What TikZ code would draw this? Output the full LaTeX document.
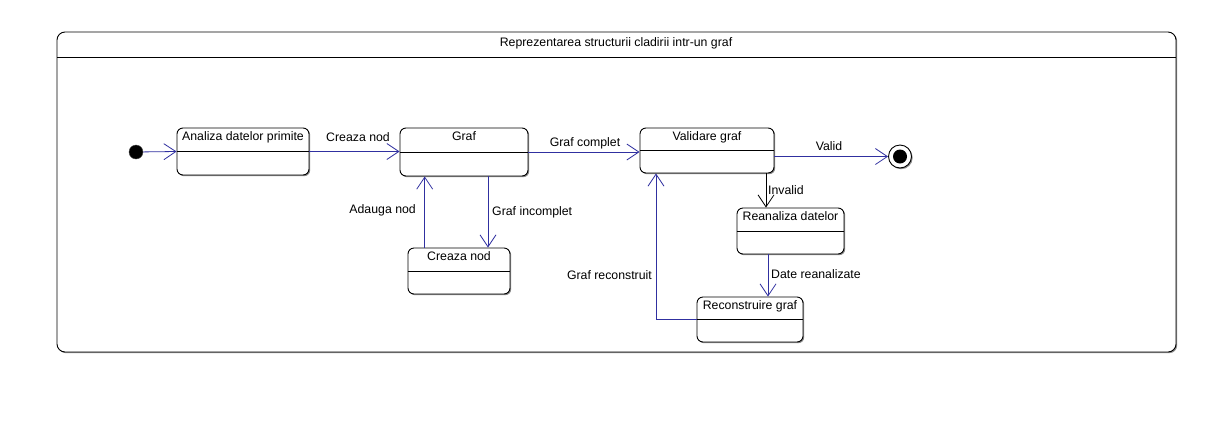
\documentclass[tikz,border=0pt]{standalone}
\usepackage{fontspec}
\setmainfont{Liberation Sans}
\usetikzlibrary{arrows.meta,shadows,calc}
\definecolor{edgeblue}{RGB}{48,48,160}
\tikzset{
  stbox/.style={draw=black,line width=0.9pt,rounded corners=6pt,fill=white,
    drop shadow={shadow xshift=1.2pt,shadow yshift=-1.2pt,fill=black!45,opacity=1},
    inner sep=0pt},
  sttitle/.style={anchor=north,inner sep=1pt,yshift=-3pt,font=\fontsize{12.3}{14}\selectfont},
  lbl/.style={inner sep=1pt,font=\fontsize{12.3}{14}\selectfont},
  tr/.style={draw=edgeblue,line width=0.8pt,-{Straight Barb[length=12pt,width=16pt,line width=0.8pt]}},
  trb/.style={draw=black,line width=0.8pt,-{Straight Barb[length=12pt,width=16pt,line width=0.8pt]}},
}
\begin{document}
\begin{tikzpicture}[x=1pt,y=-1pt]
\useasboundingbox (0,0) rectangle (1232,432);
\fill[white] (0,0) rectangle (1232,432);
% frame
\node[draw=black,line width=0.9pt,rounded corners=8pt,minimum width=1119pt,minimum height=320pt,inner sep=0pt,
  drop shadow={shadow xshift=1.2pt,shadow yshift=-1.2pt,fill=black!45,opacity=1},fill=white] (frame) at (616.5,192) {};
\draw[line width=0.9pt] (57,57) -- (1176,57);
\node[lbl] (title) at (616,43) {Reprezentarea structurii cladirii intr-un graf};
% initial / final
\node[circle,fill=black,draw=black!70,minimum size=14pt,inner sep=0pt] (init) at (136,152) {};
\node[circle,draw=black,line width=0.9pt,fill=white,minimum size=23pt,inner sep=0pt,
  drop shadow={shadow xshift=1.2pt,shadow yshift=-1.2pt,fill=black!45,opacity=1}] (final) at (900,156.5) {};
\node[circle,fill=black,minimum size=14pt,inner sep=0pt] (finalin) at (final) {};
% states
\node[stbox,minimum width=132pt,minimum height=47pt] (ana) at (243,151.5) {};
\node[stbox,minimum width=128pt,minimum height=48pt] (graf) at (464,152) {};
\node[stbox,minimum width=102pt,minimum height=46pt] (cnod) at (459,271) {};
\node[stbox,minimum width=134pt,minimum height=45pt] (valid) at (707,150.5) {};
\node[stbox,minimum width=107pt,minimum height=46pt] (rean) at (790.5,231) {};
\node[stbox,minimum width=106pt,minimum height=45pt] (recon) at (750,319.5) {};
\foreach \n in {ana,graf,cnod,valid,rean,recon}{\draw[line width=0.9pt] (\n.west) -- (\n.east);}
\node[sttitle] at (ana.north) {Analiza datelor primite};
\node[sttitle] at (graf.north) {Graf};
\node[sttitle] at (cnod.north) {Creaza nod};
\node[sttitle] at (valid.north) {Validare graf};
\node[sttitle] at (rean.north) {Reanaliza datelor};
\node[sttitle] at (recon.north) {Reconstruire graf};
% helper coordinates
\coordinate (gi) at ([xshift=24pt]graf.south);
\coordinate (an) at ([xshift=-39.3pt]graf.south);
\coordinate (invtop) at ([xshift=-24.5pt]rean.north);
\coordinate (drtop) at ([xshift=18pt]recon.north);
\coordinate (grt) at ([xshift=-51pt]valid.south);
% transitions
\draw[tr] (init) -- (ana.west);
\draw[tr] (ana.east) -- (graf.west |- ana.east);
\draw[tr] (graf.east) -- (valid.west |- graf.east);
\draw[tr] (valid.east |- final) -- (final);
\draw[trb] (invtop |- valid.south) -- (invtop);
\draw[tr] (drtop |- rean.south) -- (drtop);
\draw[tr] (recon.west) -| (grt);
\draw[tr] (gi) -- (gi |- cnod.north);
\draw[tr] (an |- cnod.north) -- (an);
% labels
\node[lbl] (l1) at (358,137) {Creaza nod};
\node[lbl] (l2) at (585,143) {Graf complet};
\node[lbl] (l3) at (829,146) {Valid};
\node[lbl,anchor=west] (l4) at (767,190) {Invalid};
\node[lbl,anchor=east] (l5) at (417,210) {Adauga nod};
\node[lbl,anchor=west] (l6) at (491,212) {Graf incomplet};
\node[lbl,anchor=west] (l7) at (770,274) {Date reanalizate};
\node[lbl,anchor=east] (l8) at (653,275) {Graf reconstruit};
\end{tikzpicture}
\end{document}
